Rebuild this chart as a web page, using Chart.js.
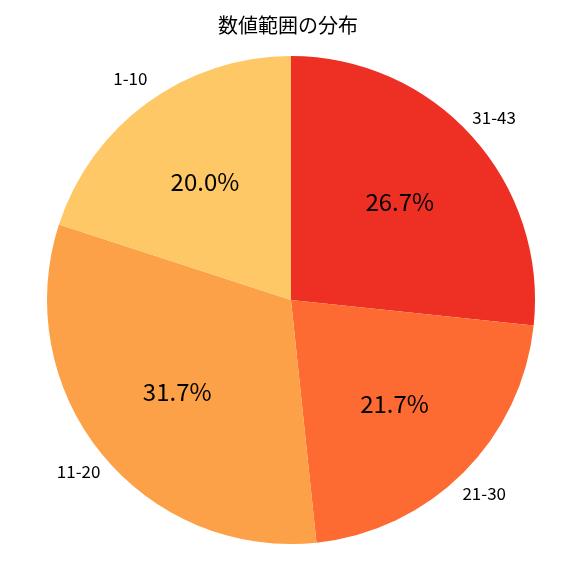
<!DOCTYPE html>
<html>
<head>
<meta charset="utf-8">
<script src="https://cdn.jsdelivr.net/npm/chart.js@4"></script>
<style>
html, body { margin: 0; padding: 0; background: #fff; }
#wrap { width: 576px; height: 576px; }
</style>
</head>
<body>
<div id="wrap"><canvas id="myChart" width="576" height="576"></canvas></div>
<script>
// data, clockwise from 12 o'clock
const categories = ["31-43", "21-30", "11-20", "1-10"];
const counts = [16, 13, 19, 12];
const colors = ["#ee2f23", "#fd6a32", "#fca147", "#fec866"];
const titleText = "数値範囲の分布";
const FONT = "'Noto Sans CJK JP', 'Noto Sans', sans-serif";

const labelPlugin = {
	id: "pieLabels",
	afterDraw(chart) {
		const ctx = chart.ctx;
		const total = counts.reduce((a, b) => a + b, 0);
		ctx.save();
		ctx.fillStyle = "#000";
		ctx.textAlign = "center";
		ctx.textBaseline = "middle";
		ctx.font = "20px " + FONT;
		ctx.fillText(titleText, chart.width / 2, 25);
		chart.getDatasetMeta(0).data.forEach(function(arc, i) {
			const mid = (arc.startAngle + arc.endAngle) / 2;
			const r = arc.outerRadius;
			ctx.font = "17px " + FONT;
			ctx.fillText(categories[i], arc.x + Math.cos(mid) * r * 1.12, arc.y + Math.sin(mid) * r * 1.12);
			ctx.font = "24px " + FONT;
			const pct = (counts[i] / total * 100).toFixed(1) + "%";
			ctx.fillText(pct, arc.x + Math.cos(mid) * r * 0.6, arc.y + Math.sin(mid) * r * 0.6);
		});
		ctx.restore();
	}
};

new Chart(document.getElementById("myChart").getContext("2d"), {
	type: "pie",
	data: {
		labels: categories,
		datasets: [{
			data: counts,
			backgroundColor: colors,
			borderWidth: 0
		}]
	},
	options: {
		responsive: false,
		animation: false,
		layout: { padding: { top: 56, bottom: 32, left: 47, right: 41 } },
		plugins: {
			legend: { display: false },
			title: { display: false },
			tooltip: { enabled: false }
		}
	},
	plugins: [labelPlugin]
});
</script>
</body>
</html>
